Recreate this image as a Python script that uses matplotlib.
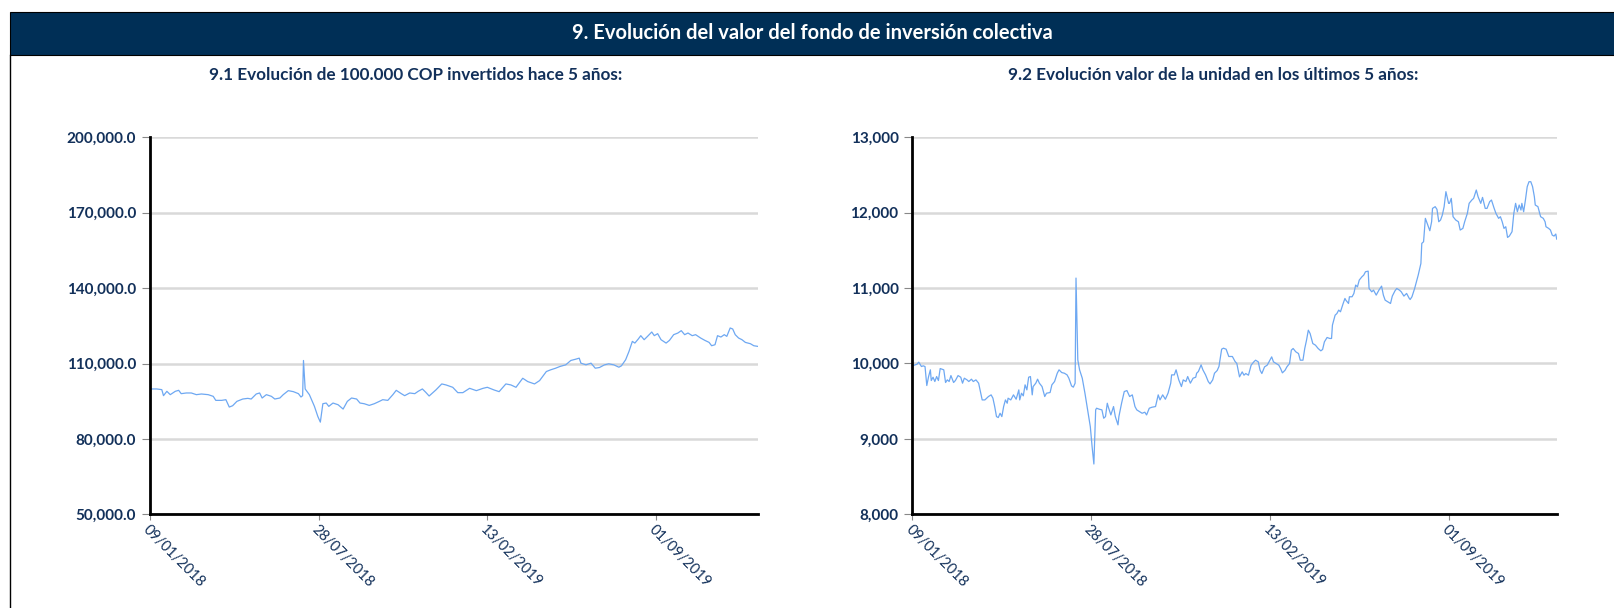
import matplotlib
matplotlib.use("Agg")
import matplotlib.pyplot as plt
import matplotlib.dates as mdates
from matplotlib.patches import Rectangle
from matplotlib.lines import Line2D
from matplotlib.ticker import FuncFormatter
import pandas as pd

inicio = pd.Timestamp("2018-01-09")
fin = pd.Timestamp("2019-12-31")
tick_fechas = ["2018-01-09", "2018-07-28", "2019-02-13", "2019-09-01"]

# 9.1 evolucion de 100.000 COP (dias desde 09/01/2018, valor)
dias_inversion = [0, 8, 14, 16, 20, 24, 30, 34, 37, 43, 49, 55, 61, 69, 75, 78, 85, 90, 94, 98,
                  103, 110, 116, 120, 126, 130, 133, 138, 144, 148, 154, 158, 164, 170, 176, 179,
                  181, 182, 184, 189, 195, 199, 202, 205, 209, 212, 217, 223, 229, 234, 239, 245,
                  249, 254, 260, 266, 272, 276, 282, 288, 292, 298, 302, 308, 314, 318, 323, 327,
                  331, 339, 346, 351, 359, 365, 371, 379, 387, 395, 400, 408, 414, 422, 428, 434,
                  442, 448, 456, 462, 467, 470, 475, 481, 486, 493, 499, 505, 509, 511, 517, 523,
                  528, 533, 539, 544, 550, 556, 559, 564, 568, 572, 575, 579, 582, 586, 590, 595,
                  598, 602, 606, 612, 616, 621, 626, 630, 634, 638, 643, 647, 653, 658, 663, 666,
                  670, 673, 677, 681, 684, 688, 691, 694, 698, 702, 706, 712, 716, 721]
valor_inversion = [99870, 99870, 99600, 97200, 98930, 97600, 98930, 99330, 98000, 98270, 98270,
                   97600, 97870, 97600, 96930, 95330, 95330, 95600, 92670, 93200, 94930, 95870,
                   96130, 95870, 97870, 98270, 96270, 97600, 96930, 95870, 96270, 97600, 99200,
                   98800, 98000, 96670, 97200, 111200, 99870, 97600, 92940, 88940, 86670, 94000,
                   94270, 92940, 94270, 93600, 91870, 94930, 96270, 95870, 94270, 94000, 93330,
                   94000, 94930, 95600, 95330, 97600, 99330, 98000, 97200, 98270, 98000, 98930,
                   99870, 98540, 97070, 99470, 101870, 101470, 100530, 98400, 98400, 100130,
                   99200, 100130, 100530, 99470, 98800, 101870, 101470, 100530, 104130, 102800,
                   101870, 103200, 105470, 106800, 107470, 108130, 108800, 109470, 111200, 111730,
                   112130, 110130, 109470, 110130, 108130, 108400, 109470, 109870, 109470, 108530,
                   109070, 111470, 114800, 118800, 118130, 119730, 121070, 119470, 120800, 122530,
                   121070, 121870, 119470, 118130, 119200, 121470, 122130, 123070, 121470, 122130,
                   121070, 121470, 120130, 119200, 118400, 117070, 117470, 121070, 120530, 121470,
                   120800, 124130, 123730, 121470, 120130, 119470, 118400, 117870, 117070, 116800]

# 9.2 valor de la unidad (dias desde 09/01/2018, valor)
dias_unidad = [0, 5, 7, 10, 12, 14, 16, 18, 20, 21, 23, 25, 27, 29, 31, 35, 37, 39, 41, 43, 46, 48,
               51, 54, 56, 58, 61, 63, 66, 68, 71, 74, 76, 78, 81, 85, 88, 90, 92, 94, 96, 98, 100,
               102, 104, 106, 107, 110, 113, 116, 119, 120, 122, 124, 126, 128, 130, 132, 134, 135,
               138, 140, 142, 145, 148, 150, 154, 156, 159, 162, 164, 167, 170, 173, 175, 178, 180,
               182, 183, 185, 187, 190, 193, 196, 199, 201, 203, 205, 206, 209, 212, 214, 216, 218,
               219, 222, 225, 227, 230, 231, 234, 237, 240, 243, 246, 249, 251, 254, 257, 260, 262,
               265, 268, 272, 275, 277, 280, 283, 286, 289, 290, 293, 295, 298, 301, 303, 306, 308,
               311, 314, 317, 318, 320, 323, 325, 328, 331, 333, 336, 338, 341, 343, 346, 348, 351,
               354, 358, 361, 363, 366, 369, 371, 373, 376, 379, 382, 384, 387, 389, 391, 394, 397,
               399, 402, 404, 407, 410, 412, 414, 417, 419, 422, 424, 426, 429, 432, 434, 437, 439,
               441, 443, 445, 448, 451, 454, 457, 459, 461, 464, 467, 469, 470, 473, 475, 477, 479,
               482, 484, 485, 488, 489, 492, 494, 496, 498, 500, 503, 505, 507, 510, 511, 514, 516,
               519, 522, 525, 527, 529, 532, 535, 537, 540, 542, 545, 547, 550, 553, 556, 557, 559,
               562, 564, 566, 569, 570, 572, 574, 576, 579, 581, 582, 585, 587, 589, 591, 593, 595,
               597, 600, 601, 603, 605, 608, 611, 613, 616, 618, 621, 623, 626, 628, 631, 633, 636,
               638, 641, 643, 646, 648, 651, 653, 656, 658, 660, 662, 664, 666, 668, 671, 673, 675,
               677, 679, 681, 682, 684, 686, 688, 690, 692, 694, 696, 697, 700, 703, 706, 708, 709,
               712, 714, 716, 718, 720, 721]
valor_unidad = [9970, 9990, 10018, 9960, 9969, 9960, 9708, 9827, 9916, 9774, 9818, 9761, 9827, 9774,
                9933, 9916, 9748, 9783, 9761, 9840, 9748, 9774, 9840, 9818, 9739, 9805, 9783, 9761,
                9792, 9761, 9783, 9739, 9628, 9517, 9517, 9562, 9584, 9540, 9429, 9296, 9283, 9340,
                9296, 9429, 9517, 9473, 9540, 9517, 9584, 9526, 9650, 9517, 9606, 9571, 9717, 9650,
                9818, 9827, 9584, 9694, 9739, 9792, 9739, 9694, 9562, 9606, 9615, 9717, 9761, 9871,
                9916, 9880, 9871, 9849, 9805, 9703, 9686, 9739, 11133, 10049, 9916, 9805, 9606, 9385,
                9163, 8898, 8667, 9385, 9407, 9394, 9385, 9274, 9296, 9473, 9429, 9318, 9429, 9296,
                9186, 9296, 9473, 9628, 9641, 9562, 9584, 9429, 9385, 9363, 9340, 9354, 9318, 9407,
                9420, 9429, 9584, 9517, 9584, 9526, 9606, 9739, 9849, 9849, 9916, 9783, 9694, 9783,
                9761, 9827, 9739, 9805, 9818, 9871, 9894, 9982, 9916, 9849, 9761, 9730, 9783, 9871,
                9907, 9960, 10190, 10203, 10190, 10093, 10093, 10027, 10000, 9823, 9889, 9845, 9867,
                9845, 9978, 10022, 10044, 10022, 9911, 9867, 9955, 9978, 10022, 10088, 10022, 10000,
                9978, 9933, 9876, 9911, 9955, 10000, 10177, 10199, 10155, 10132, 10044, 10044, 10199,
                10309, 10442, 10398, 10265, 10243, 10199, 10168, 10186, 10287, 10345, 10332, 10332,
                10509, 10641, 10663, 10708, 10686, 10796, 10863, 10840, 10796, 10885, 10885, 10929,
                11040, 11017, 11106, 11150, 11172, 11217, 11225, 10995, 10951, 10973, 10907, 10973,
                11026, 10907, 10840, 10818, 10796, 10894, 10964, 10995, 10973, 10951, 10894, 10929,
                10863, 10849, 10885, 10995, 11084, 11172, 11327, 11593, 11615, 11925, 11858, 11761,
                11880, 12057, 12080, 12044, 11880, 11903, 11969, 12080, 12279, 12124, 12124, 12190,
                11947, 11903, 11880, 11770, 11792, 11880, 11991, 12124, 12168, 12190, 12301, 12212,
                12124, 12203, 12057, 12057, 12146, 12168, 12057, 11991, 11925, 11947, 11880, 11792,
                11814, 11672, 11690, 11748, 11991, 12124, 12013, 12102, 12035, 12124, 12013, 12168,
                12345, 12411, 12411, 12345, 12212, 12102, 12080, 11947, 11925, 11880, 11814, 11792,
                11770, 11703, 11690, 11717, 11650]

ticks_inversion = [50000, 80000, 110000, 140000, 170000, 200000]
ticks_unidad = [8000, 9000, 10000, 11000, 12000, 13000]

titulo = "9. Evolución del valor del fondo de inversión colectiva"
sub1 = "9.1 Evolución de 100.000 COP invertidos hace 5 años:"
sub2 = "9.2 Evolución valor de la unidad en los últimos 5 años:"

NAVY = "#002F56"
TXT = "#12305A"
LINEA = "#6EA8F2"

plt.rcParams["font.family"] = ["Lato", "DejaVu Sans"]

W, H = 1615, 608
fig = plt.figure(figsize=(W / 100, H / 100), dpi=100)


def fx(px):
    return px / W


def fy(py):
    return 1 - py / H


# cabecera y marco
fig.add_artist(Rectangle((fx(10), fy(55)), fx(1620) - fx(10), fy(12) - fy(55),
                         transform=fig.transFigure, facecolor=NAVY, edgecolor="black", lw=0.8))
fig.add_artist(Line2D([fx(10), fx(10)], [fy(55), fy(610)], transform=fig.transFigure,
                      color="black", lw=1.0))
fig.text(fx(812), fy(33), titulo, color="white", fontsize=14.5, fontweight="bold",
         ha="center", va="center")
fig.text(fx(416), fy(75), sub1, color=TXT, fontsize=12.3, fontweight="bold", ha="center", va="center")
fig.text(fx(1213), fy(75), sub2, color=TXT, fontsize=12.3, fontweight="bold", ha="center", va="center")


def panel(rect, dias, valores, yticks, fmt):
    ax = fig.add_axes(rect)
    fechas = inicio + pd.to_timedelta(dias, unit="D")
    ax.plot(fechas, valores, color=LINEA, lw=0.9)
    ax.set_xlim(inicio, fin)
    ax.set_ylim(yticks[0], yticks[-1])
    ax.set_yticks(yticks)
    ax.yaxis.set_major_formatter(FuncFormatter(lambda v, p: fmt.format(v)))
    ax.set_xticks(pd.to_datetime(tick_fechas))
    ax.xaxis.set_major_formatter(mdates.DateFormatter("%d/%m/%Y"))
    ax.grid(axis="y", color="#D9D9D9", lw=1.8)
    ax.set_axisbelow(True)
    for s in ["top", "right"]:
        ax.spines[s].set_visible(False)
    for s in ["left", "bottom"]:
        ax.spines[s].set_linewidth(2.0)
        ax.spines[s].set_color("black")
    ax.tick_params(axis="y", length=6, width=0.8, color="#888888", pad=4,
                   labelsize=11, labelcolor=TXT)
    ax.tick_params(axis="x", length=4, width=0.8, color="#888888", pad=2,
                   labelsize=10.5, labelcolor=TXT)
    for lb in ax.get_yticklabels():
        lb.set_fontweight("bold")
    for lb in ax.get_xticklabels():
        lb.set_rotation(-45)
        lb.set_ha("left")
        lb.set_va("top")
        lb.set_rotation_mode("anchor")
    return ax


panel([fx(150), fy(514.3), fx(758) - fx(150), fy(137.3) - fy(514.3)],
      dias_inversion, valor_inversion, ticks_inversion, "{:,.1f}")
panel([fx(912.5), fy(514.3), fx(1556.7) - fx(912.5), fy(137.3) - fy(514.3)],
      dias_unidad, valor_unidad, ticks_unidad, "{:,.0f}")

fig.savefig("out.png", dpi=100, facecolor="white")
